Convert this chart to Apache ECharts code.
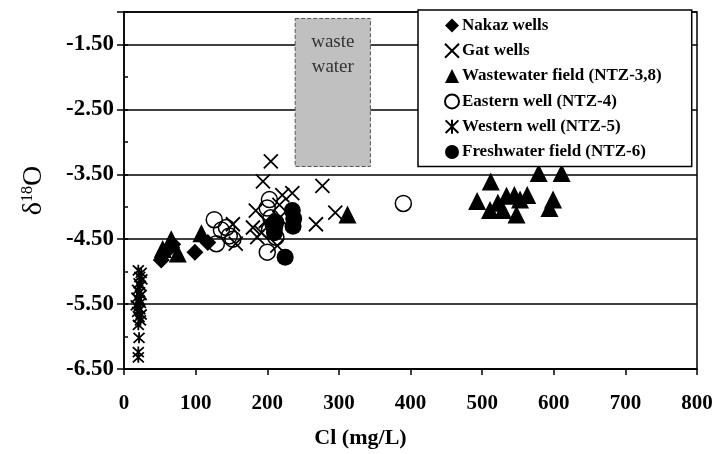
<!DOCTYPE html>
<html><head><meta charset="utf-8">
<script src="https://cdn.jsdelivr.net/npm/echarts@6/dist/echarts.min.js"></script>
<style>html,body{margin:0;padding:0;background:#fff}#c{width:722px;height:454px}</style>
</head><body><div id="c"></div>
<script>
var seriesNames = ['Nakaz wells','Gat wells','Wastewater field (NTZ-3,8)','Eastern well (NTZ-4)','Western well (NTZ-5)','Freshwater field (NTZ-6)'];
var nakaz = [[52,-4.82],[61,-4.67],[68,-4.58],[99,-4.70],[117,-4.55]];
var gat = [[205,-3.30],[194,-3.61],[221,-3.82],[235,-3.79],[277,-3.68],[268,-4.27],[295,-4.09],[184,-4.06],[180,-4.32],[152,-4.27],[156,-4.57],[186,-4.47],[217,-3.97],[214,-4.60],[217,-4.17],[198,-4.22],[192,-4.40]];
var wastewater = [[54,-4.65],[66,-4.50],[75,-4.72],[108,-4.41],[312,-4.12],[493,-3.91],[511,-4.05],[512,-3.61],[522,-3.94],[529,-4.05],[534,-3.83],[545,-3.82],[548,-4.12],[553,-3.89],[563,-3.82],[579,-3.48],[594,-4.02],[599,-3.89],[611,-3.48]];
var eastern = [[126,-4.20],[129,-4.57],[136,-4.36],[143,-4.32],[147,-4.45],[152,-4.50],[200,-4.02],[203,-3.89],[205,-4.17],[210,-4.32],[203,-4.36],[212,-4.47],[200,-4.70],[390,-3.95]];
var western = [[20,-4.98],[24,-5.02],[22,-5.08],[25,-5.12],[21,-5.18],[23,-5.22],[19,-5.28],[22,-5.32],[24,-5.36],[18,-5.40],[21,-5.44],[23,-5.48],[17,-5.52],[20,-5.55],[22,-5.58],[19,-5.62],[24,-5.66],[21,-5.70],[23,-5.75],[20,-5.82],[21,-6.02],[20,-6.24],[20,-6.32]];
var freshwater = [[235,-4.06],[237,-4.18],[236,-4.30],[208,-4.28],[210,-4.40],[212,-4.24],[225,-4.78]];
var wasteBox = [[239,-1.10],[344,-3.38]];
var xTicks = {min:0, max:800, step:100};
var yTicks = {min:-6.5, max:-1.0, step:1};

var FONT = '"Liberation Serif", "Times New Roman", serif';
var X_PATH = 'path://M0,0L20,20M20,0L0,20';
var AST_PATH = 'path://M0,0L20,20M20,0L0,20M10,-1L10,21';

var chart = echarts.init(document.getElementById('c'), null, {renderer:'canvas'});
function sc(name, data, symbol, size, style, extra){
  style.opacity = 1;
  var s = {type:'scatter', name:name, data:data, symbol:symbol, symbolSize:size, itemStyle:style, z:3};
  if (extra) for (var k in extra) s[k]=extra[k];
  return s;
}
var option = {
  animation:false,
  grid:{left:124, right:25, top:12, bottom:80, show:true, borderColor:'#000', borderWidth:1.5},
  legend:{
    orient:'vertical', left:418, top:10, width:276,
    backgroundColor:'#fff', borderColor:'#000', borderWidth:1.5,
    padding:[7,30,6,26], itemGap:8.3, itemWidth:14, itemHeight:14,
    textStyle:{fontFamily:FONT, fontWeight:'bold', fontSize:17, color:'#000', padding:[0,0,0,-2]},
    data:seriesNames, z:10
  },
  xAxis:{
    type:'value', min:xTicks.min, max:xTicks.max, interval:xTicks.step,
    name:'Cl (mg/L)', nameLocation:'middle', nameGap:58,
    nameTextStyle:{fontFamily:FONT, fontWeight:'bold', fontSize:22, color:'#000', padding:[0,100,0,0]},
    axisLine:{lineStyle:{color:'#000', width:1.5}},
    axisTick:{show:true, length:6, lineStyle:{color:'#000', width:1.5}},
    axisLabel:{fontFamily:FONT, fontWeight:'bold', fontSize:21, color:'#000', margin:24},
    splitLine:{show:false}
  },
  yAxis:[{
    type:'value', min:yTicks.min, max:yTicks.max, interval:yTicks.step,
    name:'δ{sup|18}O', nameLocation:'middle', nameGap:76, nameRotate:90,
    nameTextStyle:{fontFamily:FONT, fontSize:28, color:'#000', rich:{sup:{fontFamily:FONT, fontSize:16, verticalAlign:'top', padding:[0,0,12,0]}}},
    axisLine:{lineStyle:{color:'#000', width:1.5}},
    axisTick:{show:true, length:7, lineStyle:{color:'#000', width:1.5}},
    axisLabel:{fontFamily:FONT, fontWeight:'bold', fontSize:23, color:'#000', margin:10,
      formatter:function(v){ var r = Math.abs(((v+0.5)%1+1)%1); return (r<1e-6||r>1-1e-6) ? v.toFixed(2) : ''; }},
    splitLine:{show:true, lineStyle:{color:'#000', width:1.5}}
  },{
    type:'value', min:yTicks.min, max:yTicks.max, interval:0.5, position:'left',
    axisLine:{show:false}, axisLabel:{show:false}, splitLine:{show:false},
    axisTick:{show:true, inside:true, length:4, lineStyle:{color:'#000', width:1.5}}
  }],
  series:[
    sc(seriesNames[0], nakaz, 'diamond', 17, {color:'#000'}, {
      markArea:{silent:true, z:1,
        itemStyle:{color:'#c0c0c0', borderColor:'#555', borderWidth:1, borderType:'dashed'},
        label:{show:true, position:'insideTop', distance:12, formatter:'waste\nwater', fontFamily:FONT, fontSize:19, lineHeight:25, color:'#333'},
        data:[[{coord:wasteBox[0]},{coord:wasteBox[1]}]]}
    }),
    sc(seriesNames[1], gat, X_PATH, 14, {color:'rgba(0,0,0,0)', borderColor:'#000', borderWidth:1.8}),
    sc(seriesNames[2], wastewater, 'triangle', 18, {color:'#000'}),
    sc(seriesNames[3], eastern, 'circle', 16, {color:'rgba(0,0,0,0)', borderColor:'#000', borderWidth:1.5}),
    sc(seriesNames[4], western, AST_PATH, 11, {color:'rgba(0,0,0,0)', borderColor:'#000', borderWidth:1.8}),
    sc(seriesNames[5], freshwater, 'circle', 17, {color:'#000'})
  ]
};
chart.setOption(option);
</script></body></html>
